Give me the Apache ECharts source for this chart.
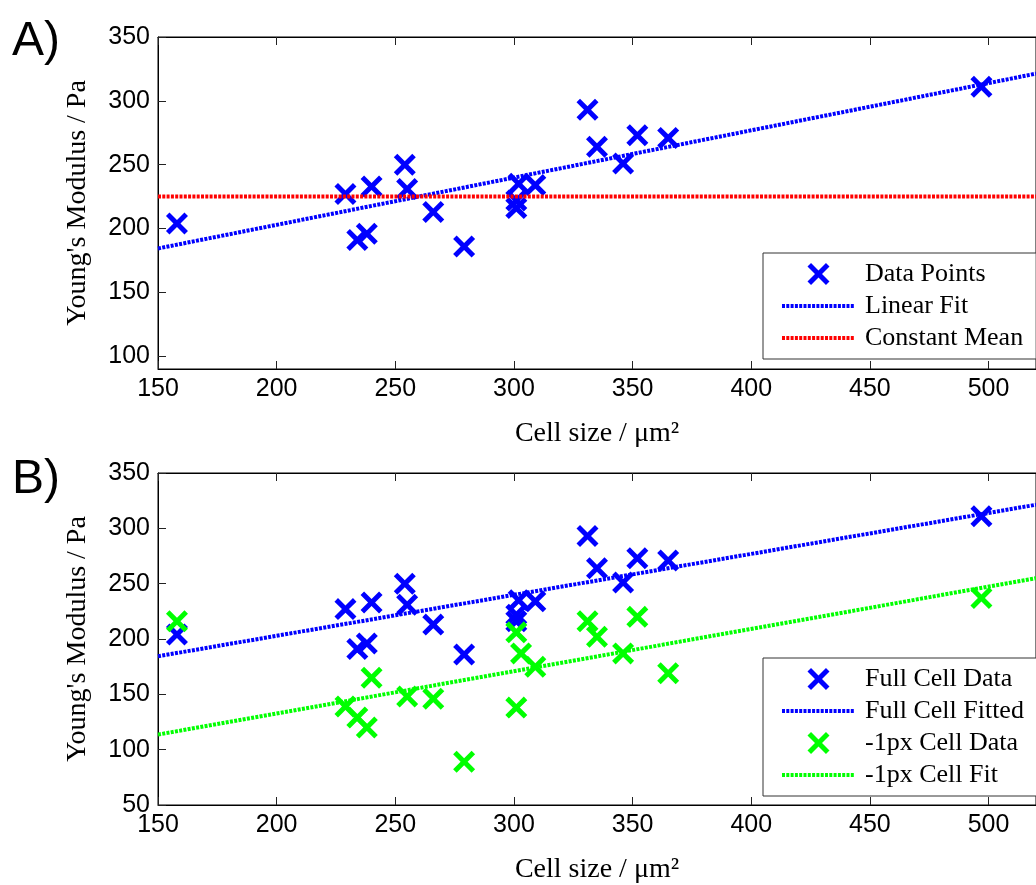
<!DOCTYPE html>
<html>
<head>
<meta charset="utf-8">
<script src="https://cdn.jsdelivr.net/npm/echarts@6.0.0/dist/echarts.min.js"></script>
<style>
html,body{margin:0;padding:0;background:#fff;}
#chart{width:1036px;height:885px;}
</style>
</head>
<body>
<div id="chart"></div>
<script>
// ---- data ----
const fullCellSize = [158, 229, 234, 238, 240, 254, 255, 266, 279, 301, 301, 302, 309, 331, 335, 346, 352, 365, 497];
const fullModulus  = [204, 227, 191, 196, 233, 250, 231, 213, 186, 222, 216, 235, 234, 293, 264, 251, 273, 271, 311];
const smallCellSize = [158, 229, 234, 238, 240, 255, 266, 279, 301, 301, 303, 309, 331, 335, 346, 352, 365, 497];
const smallModulus  = [216, 139, 129, 120, 165, 148, 146, 89, 138, 206, 187, 175, 216, 202, 187, 220, 169, 237];
const fullFit  = [184.4, 0.370];   // value at x=150, slope
const smallFit = [113.6, 0.382];   // value at x=150, slope
const constantMean = [225];
const xTicks = [150, 200, 250, 300, 350, 400, 450, 500];
const yTicksA = [100, 150, 200, 250, 300, 350];
const yTicksB = [50, 100, 150, 200, 250, 300, 350];
const namesA = ['Data Points', 'Linear Fit', 'Constant Mean'];
const namesB = ['Full Cell Data', 'Full Cell Fitted', '-1px Cell Data', '-1px Cell Fit'];

const X_MIN = 150, X_MAX = 520;
const pts = (xs, ys) => xs.map((x, i) => [x, ys[i]]);
const fitLine = (f) => [[X_MIN, f[0]], [X_MAX, f[0] + f[1] * (X_MAX - X_MIN)]];

const BLUE = '#0000ff', RED = '#ff0000', GREEN = '#00ff00';
const XSYM = 'path://M0,16 L16,0 L50,34 L84,0 L100,16 L66,50 L100,84 L84,100 L50,66 L16,100 L0,84 L34,50 Z';
const SANS = 'Liberation Sans';
const SERIF = 'Liberation Serif';
const DOT = [3, 1.3];

function xAxes(gi) {
  return [{
    type: 'value', gridIndex: gi, min: X_MIN, max: X_MAX, position: 'bottom',
    name: 'Cell size / μm²', nameLocation: 'middle', nameGap: 51,
    nameTextStyle: { fontFamily: SERIF, fontSize: 28, color: '#000' },
    axisLine: { show: true, lineStyle: { color: '#000', width: 1 } },
    axisTick: { inside: true, length: 8, customValues: xTicks, lineStyle: { color: '#222' } },
    axisLabel: { customValues: xTicks, fontFamily: SANS, fontSize: 25, color: '#000', margin: 8 },
    splitLine: { show: false }
  }, {
    type: 'value', gridIndex: gi, min: X_MIN, max: X_MAX, position: 'top',
    axisLine: { show: true, lineStyle: { color: '#000', width: 1 } },
    axisTick: { inside: true, length: 8, customValues: xTicks, lineStyle: { color: '#222' } },
    axisLabel: { show: false },
    splitLine: { show: false }
  }];
}
function yAxis(gi, min, ticks) {
  return {
    type: 'value', gridIndex: gi, min: min, max: 350,
    name: "Young's Modulus / Pa", nameLocation: 'middle', nameGap: 66,
    nameTextStyle: { fontFamily: SERIF, fontSize: 28, color: '#000' },
    axisLine: { show: true, lineStyle: { color: '#000', width: 1 } },
    axisTick: { inside: true, length: 8, customValues: ticks, lineStyle: { color: '#222' } },
    axisLabel: { customValues: ticks, fontFamily: SANS, fontSize: 25, color: '#000', margin: 8 },
    splitLine: { show: false }
  };
}
function legend(top, names) {
  return {
    orient: 'vertical', left: 763, top: top,
    data: names,
    itemWidth: 73, itemHeight: 22, itemGap: 6,
    padding: [8, 13, 8, 17],
    borderColor: '#333', borderWidth: 1, backgroundColor: '#fff',
    lineStyle: { width: 4, type: DOT },
    textStyle: { fontFamily: SERIF, fontSize: 26, color: '#000', lineHeight: 22, padding: [0, 0, 0, 5] },
    selectedMode: false
  };
}
function scatter(name, xi, yi, data, color, z) {
  return { name, type: 'scatter', xAxisIndex: xi, yAxisIndex: yi, data, symbol: XSYM, symbolSize: 22,
    itemStyle: { color: color, opacity: 1 }, z: z, animation: false };
}
function line(name, xi, yi, data, color, z) {
  return { name, type: 'line', xAxisIndex: xi, yAxisIndex: yi, data, symbol: 'none', showSymbol: false,
    lineStyle: { color: color, width: 4, type: DOT }, itemStyle: { color: color, opacity: 0 }, z: z, animation: false };
}

const chart = echarts.init(document.getElementById('chart'), null, { renderer: 'canvas' });
chart.setOption({
  animation: false,
  backgroundColor: '#fff',
  grid: [
    { left: 158, top: 37, width: 887, height: 332, show: true, borderColor: '#000', borderWidth: 1, backgroundColor: 'transparent' },
    { left: 158, top: 473, width: 887, height: 332, show: true, borderColor: '#000', borderWidth: 1, backgroundColor: 'transparent' }
  ],
  xAxis: [...xAxes(0), ...xAxes(1)],
  yAxis: [yAxis(0, 90, yTicksA), yAxis(1, 50, yTicksB)],
  legend: [legend(253, namesA), legend(658, namesB)],
  series: [
    scatter(namesA[0], 0, 0, pts(fullCellSize, fullModulus), BLUE, 3),
    line(namesA[1], 0, 0, fitLine(fullFit), BLUE, 4),
    line(namesA[2], 0, 0, [[X_MIN, constantMean[0]], [X_MAX, constantMean[0]]], RED, 5),
    scatter(namesB[0], 2, 1, pts(fullCellSize, fullModulus), BLUE, 3),
    line(namesB[1], 2, 1, fitLine(fullFit), BLUE, 4),
    scatter(namesB[2], 2, 1, pts(smallCellSize, smallModulus), GREEN, 5),
    line(namesB[3], 2, 1, fitLine(smallFit), GREEN, 6)
  ],
  graphic: [
    { type: 'text', left: 12, top: 18, style: { text: 'A)', font: '48px "Liberation Sans"', fill: '#000' } },
    { type: 'text', left: 12, top: 456, style: { text: 'B)', font: '48px "Liberation Sans"', fill: '#000' } }
  ]
});
</script>
</body>
</html>
